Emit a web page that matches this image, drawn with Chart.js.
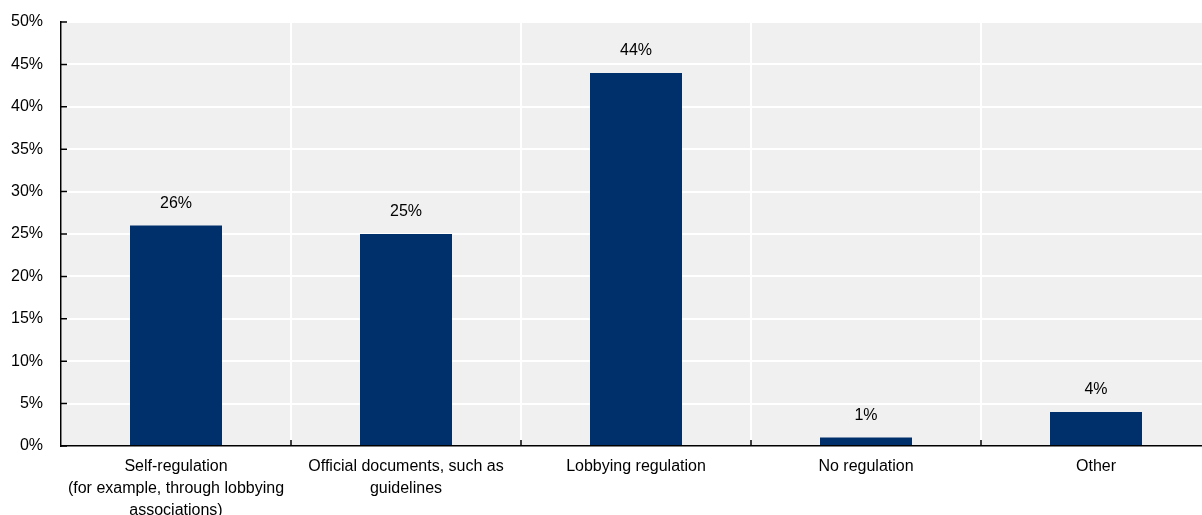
<!DOCTYPE html>
<html>
<head>
<meta charset="utf-8">
<script src="https://cdn.jsdelivr.net/npm/chart.js@4/dist/chart.umd.min.js"></script>
<style>
  html, body { margin: 0; padding: 0; overflow: hidden; background: #fff; }
  #wrap { position: absolute; left: 0; top: 0; width: 1211px; height: 515px; }
</style>
</head>
<body>
<div id="wrap"><canvas id="myChart"></canvas></div>
<script>
const categories = [
	['Self-regulation', '(for example, through lobbying', 'associations)'],
	['Official documents, such as', 'guidelines'],
	'Lobbying regulation',
	'No regulation',
	'Other',
]
const shares = [26, 25, 44, 1, 4]
const yTicks = [0, 5, 10, 15, 20, 25, 30, 35, 40, 45, 50]

const ctx = document.getElementById('myChart')

// grey plot background
const plotBg = {
	id: 'plotBg',
	beforeDraw(chart) {
		const a = chart.chartArea
		const c = chart.ctx
		c.save()
		c.fillStyle = '#f0f0f0'
		c.fillRect(a.left, a.top, a.right - a.left, a.bottom - a.top)
		c.restore()
	},
}

// inward tick marks + value labels
const extras = {
	id: 'extras',
	afterDraw(chart) {
		const c = chart.ctx
		const a = chart.chartArea
		const y = chart.scales.y
		c.save()
		c.strokeStyle = '#000'
		c.lineWidth = 1.5
		c.beginPath()
		y.ticks.forEach((t, i) => {
			const py = y.getPixelForTick(i)
			c.moveTo(a.left, py)
			c.lineTo(a.left + 6, py)
		})
		const step = (a.right - a.left) / categories.length
		for (let i = 1; i < categories.length; i++) {
			const px = a.left + step * i
			c.moveTo(px, a.bottom)
			c.lineTo(px, a.bottom - 6)
		}
		c.stroke()

		c.fillStyle = '#000'
		c.font = '16px "Liberation Sans", Arial, sans-serif'
		c.textAlign = 'center'
		c.textBaseline = 'middle'
		const meta = chart.getDatasetMeta(0)
		meta.data.forEach((bar, i) => {
			c.fillText(shares[i] + '%', bar.x, bar.y - 22)
		})
		c.restore()
	},
}

const myChart = new Chart(ctx, {
	type: 'bar',
	data: {
		labels: categories,
		datasets: [
			{
				data: shares,
				backgroundColor: '#00306b',
				categoryPercentage: 1,
				barPercentage: 0.4,
			},
		],
	},
	options: {
		responsive: true,
		maintainAspectRatio: false,
		animation: false,
		layout: {
			padding: { top: 22, right: 0, left: 0, bottom: 0 },
		},
		plugins: {
			legend: { display: false },
			tooltip: { enabled: false },
		},
		scales: {
			x: {
				grid: {
					color: '#ffffff',
					lineWidth: 2,
					drawTicks: false,
					offset: true,
				},
				border: { color: '#000', width: 1.5 },
				ticks: {
					color: '#000',
					padding: 9,
					maxRotation: 0,
					autoSkip: false,
					font: { family: '"Liberation Sans", Arial, sans-serif', size: 16, lineHeight: 1.4 },
				},
				afterFit(scale) {
					scale.height = 69
				},
			},
			y: {
				min: 0,
				max: 50,
				afterBuildTicks(scale) {
					scale.ticks = yTicks.map(v => ({ value: v }))
				},
				grid: {
					color: '#ffffff',
					lineWidth: 2,
					drawTicks: true,
					tickLength: 18,
					tickColor: 'rgba(0,0,0,0)',
				},
				border: { color: '#000', width: 1.5 },
				ticks: {
					color: '#000',
					padding: 0,
					font: { family: '"Liberation Sans", Arial, sans-serif', size: 16 },
					callback: v => v + '%',
				},
				afterFit(scale) {
					scale.width = 61
				},
			},
		},
	},
	plugins: [plotBg, extras],
})
</script>
</body>
</html>
